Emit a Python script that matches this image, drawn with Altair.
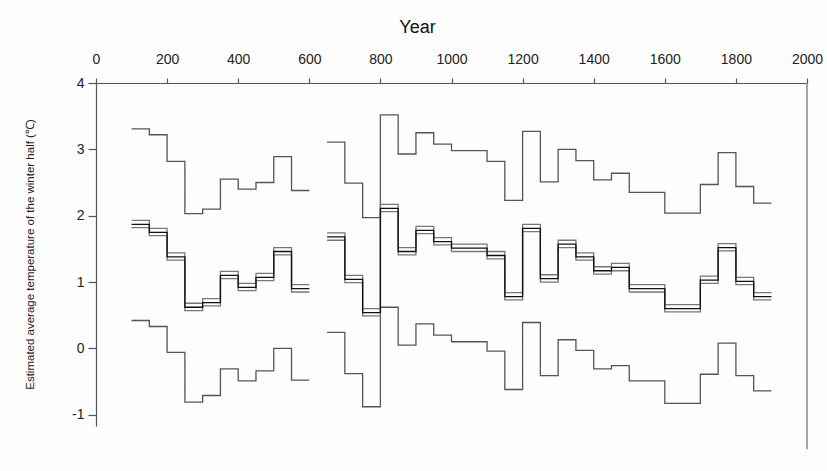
import altair as alt
import pandas as pd

# --- data ---
starts1 = [100, 150, 200, 250, 300, 350, 400, 450, 500, 550]
end1 = 600
starts2 = [650, 700, 750, 800, 850, 900, 950, 1000, 1100, 1150, 1200, 1250,
           1300, 1350, 1400, 1450, 1500, 1600, 1700, 1750, 1800, 1850]
end2 = 1900

upper1 = [3.31, 3.22, 2.82, 2.03, 2.10, 2.55, 2.40, 2.50, 2.89, 2.38]
upper2 = [3.11, 2.49, 1.97, 3.52, 2.93, 3.25, 3.08, 2.98, 2.82, 2.23, 3.27, 2.51,
          3.00, 2.83, 2.54, 2.64, 2.35, 2.04, 2.47, 2.95, 2.44, 2.19]
lower1 = [0.42, 0.33, -0.06, -0.81, -0.71, -0.31, -0.49, -0.34, 0.00, -0.48]
lower2 = [0.24, -0.38, -0.88, 0.62, 0.05, 0.37, 0.20, 0.10, -0.04, -0.62, 0.39, -0.41,
          0.13, -0.03, -0.31, -0.26, -0.49, -0.83, -0.39, 0.08, -0.41, -0.64]
mean1 = [1.87, 1.75, 1.38, 0.62, 0.69, 1.10, 0.92, 1.07, 1.46, 0.90]
mean2 = [1.68, 1.04, 0.54, 2.11, 1.46, 1.78, 1.61, 1.51, 1.40, 0.78, 1.81, 1.05,
         1.57, 1.38, 1.17, 1.22, 0.90, 0.60, 1.03, 1.52, 1.01, 0.78]
hi1 = [1.93, 1.81, 1.44, 0.68, 0.75, 1.16, 0.98, 1.13, 1.52, 0.96]
lo1 = [1.82, 1.70, 1.33, 0.57, 0.64, 1.05, 0.87, 1.02, 1.41, 0.85]
hi2 = [1.74, 1.10, 0.60, 2.17, 1.52, 1.84, 1.67, 1.57, 1.46, 0.84, 1.87, 1.11,
       1.63, 1.44, 1.23, 1.28, 0.96, 0.66, 1.09, 1.58, 1.07, 0.84]
lo2 = [1.63, 0.99, 0.49, 2.06, 1.41, 1.73, 1.56, 1.46, 1.35, 0.73, 1.76, 1.00,
       1.52, 1.33, 1.12, 1.17, 0.85, 0.55, 0.98, 1.47, 0.96, 0.73]

series = {
    "upper": (upper1, upper2),
    "lower": (lower1, lower2),
    "hi": (hi1, hi2),
    "lo": (lo1, lo2),
    "mean": (mean1, mean2),
}

rows = []
for name, (v1, v2) in series.items():
    for seg, (starts, end, vals) in enumerate([(starts1, end1, v1), (starts2, end2, v2)]):
        for s, v in zip(starts, vals):
            rows.append({"year": s, "value": v, "series": name, "seg": seg})
        rows.append({"year": end, "value": vals[-1], "series": name, "seg": seg})
df = pd.DataFrame(rows)

names = ["upper", "lower", "hi", "lo", "mean"]
colors = ["#555555", "#555555", "#777777", "#777777", "#111111"]
widths = [1.3, 1.3, 1.0, 1.0, 2.2]

FONT = "Liberation Sans"

lines = alt.Chart(df).mark_line(interpolate="step-after").encode(
    x=alt.X("year:Q",
            scale=alt.Scale(domain=[0, 2000], nice=False),
            axis=alt.Axis(orient="top", title="Year",
                          values=list(range(0, 2001, 100)),
                          labelExpr="datum.value % 200 == 0 ? datum.label : ''",
                          format="d", grid=False, tickSize=5, tickColor="#555555",
                          domainColor="#555555", domainWidth=1.2, tickWidth=1.2,
                          labelFont=FONT, labelFontSize=14, labelColor="#222222",
                          labelPadding=12, labelFlush=False,
                          titleFont=FONT, titleFontSize=18, titleFontWeight="normal",
                          titleColor="#111111", titleX=321, titleY=-56,
                          titleBaseline="middle", titleAlign="center")),
    y=alt.Y("value:Q",
            scale=alt.Scale(domain=[-1.17, 4], nice=False, zero=False),
            axis=alt.Axis(values=[-1, 0, 1, 2, 3, 4],
                          labelExpr="'' + datum.value",
                          grid=False, tickSize=8,
                          tickColor="#555555", domainColor="#555555",
                          domainWidth=1.2, tickWidth=1.2,
                          labelFont=FONT, labelFontSize=14, labelColor="#222222",
                          labelPadding=4,
                          title="Estimated average temperature of the winter half (℃)",
                          titleFont=FONT, titleFontSize=11.5, titleFontWeight="normal",
                          titleColor="#222222", titleAngle=-90, titleX=-66, titleY=171,
                          titleBaseline="middle", titleAlign="center")),
    detail=alt.Detail(["series:N", "seg:N"]),
    color=alt.Color("series:N", scale=alt.Scale(domain=names, range=colors), legend=None),
    strokeWidth=alt.StrokeWidth("series:N", scale=alt.Scale(domain=names, range=widths),
                                legend=None),
    order="year:Q",
)

border = pd.DataFrame({"x": [2000], "y": [4], "y2": [-1.52]})
right_rule = alt.Chart(border).mark_rule(color="#888888", strokeWidth=1.5).encode(
    x="x:Q", y="y:Q", y2="y2:Q"
)

chart = alt.layer(lines, right_rule).properties(
    width=711, height=343,
    autosize=alt.AutoSizeParams(type="none"),
    padding={"left": 96, "top": 83, "right": 20, "bottom": 45},
    background="#fdfdfd",
).configure_view(strokeWidth=0)

chart.save("out.html", embed_options={"renderer": "svg", "actions": False})
